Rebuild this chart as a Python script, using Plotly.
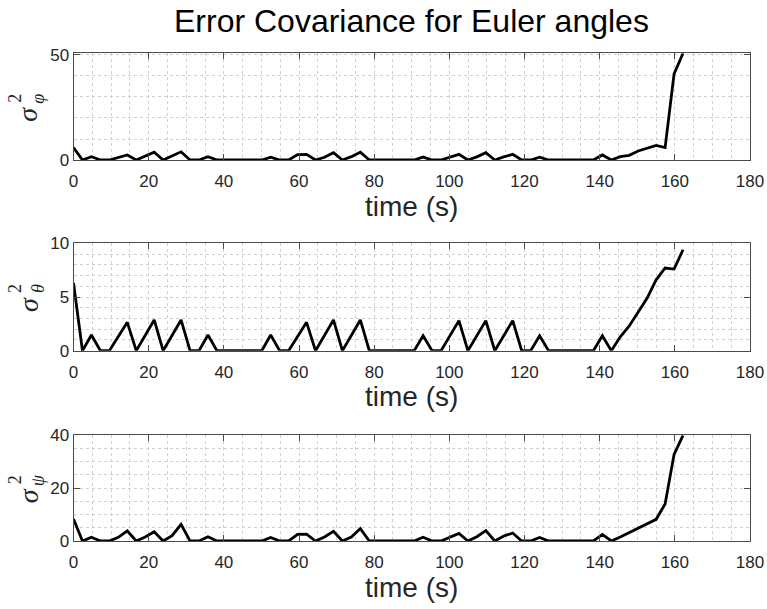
import plotly.graph_objects as go

# time stamps (s)
time_s = [0.00, 2.39, 4.77, 7.16, 9.54, 11.93, 14.31, 16.70, 19.08, 21.47,
          23.85, 26.24, 28.62, 31.01, 33.39, 35.78, 38.16, 40.55, 42.93, 45.32,
          47.70, 50.09, 52.47, 54.86, 57.24, 59.63, 62.01, 64.40, 66.78, 69.17,
          71.55, 73.94, 76.32, 78.71, 81.09, 83.48, 85.86, 88.25, 90.63, 93.02,
          95.40, 97.79, 100.17, 102.56, 104.94, 107.33, 109.71, 112.10, 114.48, 116.87,
          119.25, 121.64, 124.02, 126.41, 128.79, 131.18, 133.56, 135.95, 138.33, 140.72,
          143.10, 145.49, 147.87, 150.26, 152.64, 155.03, 157.41, 159.80, 162.18]

var_phi = [5.9, 0, 1.6, 0, 0, 1.2, 2.4, 0, 1.8, 3.7,
           0, 1.9, 3.9, 0, 0, 1.6, 0, 0, 0, 0,
           0, 0, 1.3, 0, 0, 2.6, 2.7, 0, 1.3, 3.5,
           0, 1.6, 3.7, 0, 0, 0, 0, 0, 0, 1.4,
           0, 0, 1.3, 2.7, 0, 1.5, 3.5, 0, 1.5, 2.7,
           0, 0, 1.3, 0, 0, 0, 0, 0, 0, 2.4,
           0, 1.6, 2.2, 4.3, 5.5, 6.9, 5.9, 41.0, 50.8]

var_theta = [6.3, 0, 1.46, 0, 0, 1.32, 2.64, 0, 1.43, 2.86,
             0, 1.43, 2.86, 0, 0, 1.46, 0, 0, 0, 0,
             0, 0, 1.46, 0, 0, 1.32, 2.64, 0, 1.43, 2.86,
             0, 1.43, 2.86, 0, 0, 0, 0, 0, 0, 1.4,
             0, 0, 1.4, 2.8, 0, 1.4, 2.8, 0, 1.4, 2.8,
             0, 0, 1.4, 0, 0, 0, 0, 0, 0, 1.4,
             0, 1.3, 2.3, 3.6, 4.9, 6.6, 7.7, 7.6, 9.4]

var_psi = [8.3, 0, 1.4, 0, 0, 1.4, 3.8, 0, 1.5, 3.5,
           0, 2.0, 6.3, 0, 0, 1.6, 0, 0, 0, 0,
           0, 0, 1.3, 0, 0, 2.5, 2.6, 0, 1.5, 3.7,
           0, 1.5, 4.7, 0, 0, 0, 0, 0, 0, 1.4,
           0, 0, 1.4, 2.9, 0, 1.6, 3.9, 0, 1.9, 3.0,
           0, 0, 1.3, 0, 0, 0, 0, 0, 0, 2.5,
           0, 1.5, 3.1, 5.0, 6.4, 8.2, 14.0, 32.8, 40.0]

x_ticks = [0, 20, 40, 60, 80, 100, 120, 140, 160, 180]
y_ranges = [[0, 50.8], [0, 10], [0, 40]]
y_ticks = [[0, 50], [0, 5, 10], [0, 20, 40]]
y_minor = [10, 1, 5]
y_symbol = "σ"
y_power = "2"
y_subscripts = ["φ", "θ", "ψ"]
title_text = "Error Covariance for Euler angles"
x_label = "time (s)"

W, H = 767, 609
FONT = "Liberation Sans, Arial, Helvetica, sans-serif"
SERIF = "Liberation Serif, DejaVu Serif, serif"
AX = "#262626"
GRID = "#d0d0d0"

x0, x1 = 73.5 / W, 750 / W
# pixel top/bottom for each axes box
boxes = [(53.3, 160), (243.3, 350.7), (435.3, 541)]


def py(p):
    return 1 - p / H


fig = go.Figure()
series = [var_phi, var_theta, var_psi]
for i, ys in enumerate(series):
    n = "" if i == 0 else str(i + 1)
    fig.add_trace(go.Scatter(x=time_s, y=ys, mode="lines",
                             line=dict(color="black", width=2.8),
                             xaxis="x" + n, yaxis="y" + n, showlegend=False,
                             hoverinfo="skip"))
    top, bot = boxes[i]
    dom = [py(bot), py(top)]
    common = dict(showline=True, linecolor="#4a4a4a", linewidth=1, mirror="allticks",
                  ticks="inside", ticklen=6, tickwidth=1, tickcolor="#4a4a4a",
                  showgrid=True, gridcolor=GRID, griddash="dot", gridwidth=1,
                  zeroline=False, automargin=False,
                  tickfont=dict(family=FONT, size=17, color=AX))
    fig.update_layout(**{
        "xaxis" + n: dict(domain=[x0, x1], range=[0, 180], tickvals=x_ticks,
                          anchor="y" + n, ticklabelstandoff=6,
                          minor=dict(dtick=5, showgrid=True, gridcolor=GRID,
                                     griddash="dot", gridwidth=1),
                          **common),
        "yaxis" + n: dict(domain=dom, range=y_ranges[i], tickvals=y_ticks[i],
                          anchor="x" + n,
                          minor=dict(dtick=y_minor[i], showgrid=True, gridcolor=GRID,
                                     griddash="dot", gridwidth=1),
                          **common),
    })
    # x label
    fig.add_annotation(text=x_label, xref="paper", yref="paper",
                       x=(x0 + x1) / 2, y=py(bot + 46),
                       xanchor="center", yanchor="middle", showarrow=False,
                       font=dict(family=FONT, size=28, color=AX))
    # y label: sigma with stacked power and subscript (rotated)
    ymid = (top + bot) / 2
    fig.add_annotation(text="<i>" + y_symbol + "</i>", xref="paper", yref="paper",
                       x=28 / W, y=py(ymid + 7),
                       xanchor="center", yanchor="middle", showarrow=False,
                       textangle=-90,
                       font=dict(family=SERIF, size=28, color=AX))
    fig.add_annotation(text=y_power, xref="paper", yref="paper",
                       x=15 / W, y=py(ymid - 8),
                       xanchor="center", yanchor="middle", showarrow=False,
                       textangle=-90,
                       font=dict(family=SERIF, size=18, color=AX))
    fig.add_annotation(text="<i>" + y_subscripts[i] + "</i>", xref="paper", yref="paper",
                       x=38 / W, y=py(ymid - 8),
                       xanchor="center", yanchor="middle", showarrow=False,
                       textangle=-90,
                       font=dict(family=SERIF, size=18, color=AX))

fig.add_annotation(text=title_text, xref="paper", yref="paper",
                   x=(x0 + x1) / 2, y=py(21), xanchor="center", yanchor="middle",
                   showarrow=False, font=dict(family=FONT, size=32, color="black"))

fig.update_layout(width=W, height=H, margin=dict(l=0, r=0, t=0, b=0),
                  paper_bgcolor="white", plot_bgcolor="white")

fig.write_html("out.html")
